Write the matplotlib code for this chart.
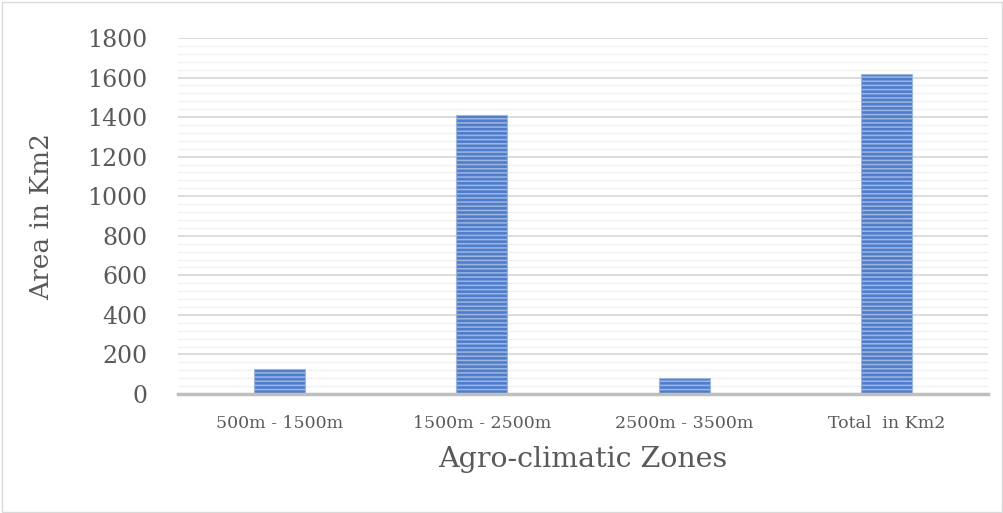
import numpy as np
import matplotlib.pyplot as plt
from matplotlib.patches import Rectangle


# data
zones = ["500m - 1500m", "1500m - 2500m", "2500m - 3500m", "Total  in Km2"]
area_km2 = [128, 1412, 80, 1620]

TEXT = "#595959"
BAR_FACE = "#4f7dcb"
STRIPE = "#c9d8f0"

plt.rcParams["font.family"] = ["DejaVu Serif"]
plt.rcParams["hatch.linewidth"] = 1.1
plt.rcParams["hatch.color"] = STRIPE

fig = plt.figure(figsize=(10.04, 5.13), dpi=100)
ax = fig.add_axes([178 / 1004, 1 - 394 / 513, 810 / 1004, 356 / 513])

x = np.arange(len(zones))
ax.bar(x, area_km2, width=0.25, color=BAR_FACE, edgecolor="#9db6e0",
       linewidth=0.8, hatch="----", zorder=3)

ax.set_xlim(-0.5, len(zones) - 0.5)
ax.set_ylim(0, 1800)
ax.set_yticks(np.arange(0, 1801, 200))
ax.set_yticks(np.arange(0, 1801, 40), minor=True)
ax.grid(axis="y", which="major", color="#d9d9d9", linewidth=1.3, zorder=0)
ax.grid(axis="y", which="minor", color="#f0f0f0", linewidth=1.0, zorder=0)

ax.set_xticks(x)
ax.set_xticklabels(zones, fontsize=12.5, color=TEXT)
ax.tick_params(axis="y", labelsize=17, colors=TEXT, length=0, pad=22)
ax.tick_params(axis="x", length=0, pad=15)
ax.tick_params(which="minor", length=0)

for side in ["top", "right", "left"]:
    ax.spines[side].set_visible(False)
ax.spines["bottom"].set_color("#bfbfbf")
ax.spines["bottom"].set_linewidth(2.5)
ax.spines["bottom"].set_zorder(4)

ax.set_ylabel("Area in Km2", fontsize=19, color=TEXT, labelpad=24)
ax.set_xlabel("Agro-climatic Zones", fontsize=20.5, color=TEXT, labelpad=10)

# thin border round the whole chart
fig.patches.append(Rectangle((0.002, 0.002), 0.996, 0.994, transform=fig.transFigure,
                             fill=False, edgecolor="#d9d9d9", linewidth=1))

fig.savefig("out.png", dpi=100)
